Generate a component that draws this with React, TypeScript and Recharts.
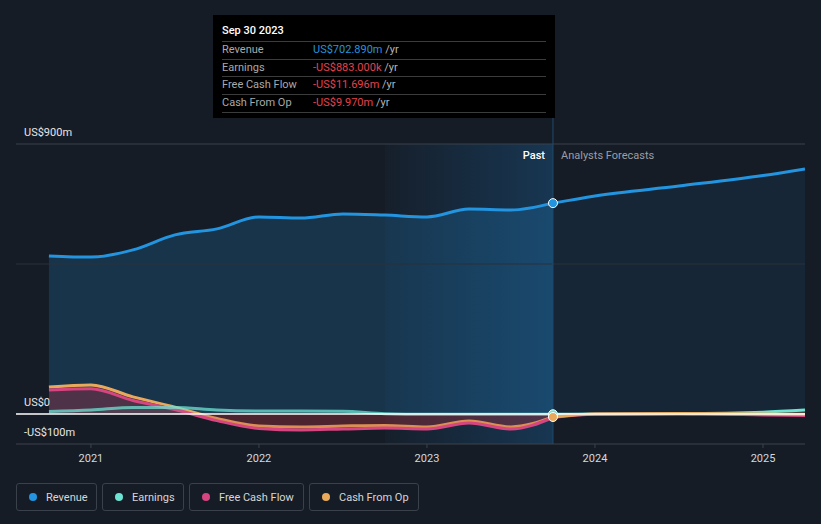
import {
  Area,
  ComposedChart,
  ReferenceArea,
  ReferenceDot,
  ReferenceLine,
  XAxis,
  YAxis,
} from 'recharts'

// quarter ends as fractional years; last past point is Sep 30 2023
const periods = [
  2020.75, 2021.0, 2021.25, 2021.5, 2021.75, 2022.0, 2022.25, 2022.5, 2022.75,
  2023.0, 2023.25, 2023.5, 2023.75,
]
const revenue = [527, 523, 547, 597, 617, 657, 653, 667, 663, 657, 683, 680, 702.89]
const earnings = [8, 13, 22, 22, 13, 10, 10, 9, 1, -1, -1, -1, -0.883]
const freeCashFlow = [80, 84, 45, 15, -22, -48, -53, -50, -47, -50, -30, -50, -11.696]
const cashFromOp = [90, 97, 57, 23, -15, -40, -43, -40, -38, -43, -23, -43, -9.97]

const forecastPeriods = [2024.0, 2024.5, 2025.0, 2025.25]
const revenueForecast = [727, 760, 795, 817]
const earningsForecast = [0, 1, 6, 13]
const freeCashFlowForecast = [-1, 0, -3, -5]
const cashFromOpForecast = [0, 2, 0, -1]

const yearTicks = [2021, 2022, 2023, 2024, 2025]
const valueTicks = [-100, 0, 900]
const valueLabels: Record<number, string> = {
  [-100]: '-US$100m',
  0: 'US$0',
  900: 'US$900m',
}

const COLORS = {
  revenue: '#2394df',
  earnings: '#6de3d3',
  fcf: '#d6457f',
  cfo: '#e9a95a',
}

const last = periods.length - 1
const pastEnd = periods[last]

const chartData = [
  ...periods.map((t, i) => ({
    t,
    rev: revenue[i],
    earn: earnings[i],
    fcf: freeCashFlow[i],
    cfo: cashFromOp[i],
    revF: i === last ? revenue[i] : null,
    earnF: i === last ? earnings[i] : null,
    fcfF: i === last ? freeCashFlow[i] : null,
    cfoF: i === last ? cashFromOp[i] : null,
  })),
  ...forecastPeriods.map((t, i) => ({
    t,
    rev: null,
    earn: null,
    fcf: null,
    cfo: null,
    revF: revenueForecast[i],
    earnF: earningsForecast[i],
    fcfF: freeCashFlowForecast[i],
    cfoF: cashFromOpForecast[i],
  })),
]

const tooltipRows = [
  { label: 'Revenue', value: 'US$702.890m', color: '#2394df' },
  { label: 'Earnings', value: '-US$883.000k', color: '#e5424d' },
  { label: 'Free Cash Flow', value: '-US$11.696m', color: '#e5424d' },
  { label: 'Cash From Op', value: '-US$9.970m', color: '#e5424d' },
]

const legendItems = [
  { name: 'Revenue', color: COLORS.revenue, width: 81 },
  { name: 'Earnings', color: COLORS.earnings, width: 82 },
  { name: 'Free Cash Flow', color: COLORS.fcf, width: 115 },
  { name: 'Cash From Op', color: COLORS.cfo, width: 110 },
]

const FONT = 'Roboto, "Noto Sans", sans-serif'

function ValueTick({ y, payload }: any) {
  return (
    <text x={24} y={y - 12} dy="0.35em" fill="#e6e6e6" fontSize={11} fontFamily={FONT}>
      {valueLabels[payload.value]}
    </text>
  )
}

export default function App() {
  return (
    <div
      style={{
        position: 'absolute',
        left: 0,
        top: 0,
        width: 821,
        height: 524,
        background: '#161c26',
        fontFamily: FONT,
        overflow: 'hidden',
      }}
    >
      <ComposedChart
        width={821}
        height={524}
        data={chartData}
        margin={{ top: 114, right: 16, bottom: 50, left: 15 }}
      >
        <defs>
          <linearGradient id="pastBand" x1="0" y1="0" x2="1" y2="0">
            <stop offset="0%" stopColor="#1a6fb0" stopOpacity={0.04} />
            <stop offset="100%" stopColor="#1a6fb0" stopOpacity={0.32} />
          </linearGradient>
        </defs>
        <XAxis
          dataKey="t"
          type="number"
          domain={[2020.554, 2025.25]}
          ticks={yearTicks}
          tickFormatter={(v) => String(v)}
          stroke="#3d434d"
          tickSize={4}
          tickMargin={6}
          tick={{ fill: '#d8d8d8', fontSize: 11, fontFamily: FONT }}
          height={30}
          allowDataOverflow
        />
        <YAxis
          type="number"
          domain={[-100, 1000]}
          ticks={valueTicks}
          width={1}
          axisLine={false}
          tickLine={false}
          tick={(props: any) => <ValueTick {...props} />}
          allowDataOverflow
        />
        <ReferenceArea x1={2022.75} x2={pastEnd} y1={-100} y2={900} fill="url(#pastBand)" fillOpacity={1} />
        <ReferenceLine y={900} stroke="#3a414b" strokeWidth={1} />
        <ReferenceLine y={500} stroke="#2a313b" strokeWidth={1} />

        <Area
          type="monotone"
          dataKey="rev"
          stroke={COLORS.revenue}
          strokeWidth={3}
          fill={COLORS.revenue}
          fillOpacity={0.2}
          baseValue={0}
          isAnimationActive={false}
          dot={false}
          activeDot={false}
        />
        <Area
          type="monotone"
          dataKey="revF"
          stroke={COLORS.revenue}
          strokeWidth={3}
          fill={COLORS.revenue}
          fillOpacity={0.09}
          baseValue={0}
          isAnimationActive={false}
          dot={false}
          activeDot={false}
        />
        <Area
          type="monotone"
          dataKey="cfo"
          stroke={COLORS.cfo}
          strokeWidth={3}
          fill="#a8303f"
          fillOpacity={0.2}
          baseValue={0}
          isAnimationActive={false}
          dot={false}
          activeDot={false}
        />
        <Area
          type="monotone"
          dataKey="fcf"
          stroke={COLORS.fcf}
          strokeWidth={3}
          fill="#a8303f"
          fillOpacity={0.22}
          baseValue={0}
          isAnimationActive={false}
          dot={false}
          activeDot={false}
        />
        <Area
          type="monotone"
          dataKey="earn"
          stroke={COLORS.earnings}
          strokeWidth={3}
          strokeOpacity={0.75}
          fill={COLORS.earnings}
          fillOpacity={0.08}
          baseValue={0}
          isAnimationActive={false}
          dot={false}
          activeDot={false}
        />
        <Area
          type="monotone"
          dataKey="earnF"
          stroke={COLORS.earnings}
          strokeWidth={3}
          fill="none"
          isAnimationActive={false}
          dot={false}
          activeDot={false}
        />
        <Area
          type="monotone"
          dataKey="fcfF"
          stroke={COLORS.fcf}
          strokeWidth={3}
          fill="none"
          isAnimationActive={false}
          dot={false}
          activeDot={false}
        />
        <Area
          type="monotone"
          dataKey="cfoF"
          stroke={COLORS.cfo}
          strokeWidth={3}
          fill="none"
          isAnimationActive={false}
          dot={false}
          activeDot={false}
        />
        <ReferenceLine y={0} stroke="#ffffff" strokeWidth={1.5} />
        <ReferenceLine x={pastEnd} stroke="#1f4a6e" strokeWidth={1} />
        <ReferenceDot x={pastEnd} y={earnings[last]} r={4.5} fill={COLORS.earnings} stroke="#ffffff" strokeWidth={1} />
        <ReferenceDot x={pastEnd} y={cashFromOp[last]} r={4.5} fill={COLORS.cfo} stroke="#ffffff" strokeWidth={1} />
        <ReferenceDot x={pastEnd} y={revenue[last]} r={4.5} fill={COLORS.revenue} stroke="#ffffff" strokeWidth={1} />
      </ComposedChart>

      {/* static tooltip for Sep 30 2023 */}
      <div
        style={{
          position: 'absolute',
          left: 213,
          top: 15,
          width: 342,
          height: 103,
          background: '#000000',
          fontSize: 11,
        }}
      >
        <div style={{ position: 'absolute', left: 9, top: 9, color: '#ffffff', fontWeight: 500 }}>
          Sep 30 2023
        </div>
        {tooltipRows.map((row, i) => (
          <div
            key={row.label}
            style={{
              position: 'absolute',
              left: 9,
              top: 26 + i * 17.5,
              width: 324,
              height: 17,
              borderTop: '1px solid #3c3c3c',
              borderBottom: i === tooltipRows.length - 1 ? '1px solid #3c3c3c' : 'none',
              lineHeight: '16px',
            }}
          >
            <span style={{ position: 'absolute', left: 0, color: '#a9a9a9' }}>{row.label}</span>
            <span style={{ position: 'absolute', left: 91, color: row.color, whiteSpace: 'nowrap' }}>
              {row.value}
              <span style={{ color: '#b5b5b5' }}> /yr</span>
            </span>
          </div>
        ))}
      </div>

      <div
        style={{
          position: 'absolute',
          right: 821 - 545,
          top: 149,
          color: '#ffffff',
          fontSize: 11,
          fontWeight: 500,
        }}
      >
        Past
      </div>
      <div style={{ position: 'absolute', left: 561, top: 149, color: '#9a9ea5', fontSize: 11 }}>
        Analysts Forecasts
      </div>

      <div style={{ position: 'absolute', left: 16, top: 483, display: 'flex', gap: 5 }}>
        {legendItems.map((item) => (
          <div
            key={item.name}
            style={{
              width: item.width,
              height: 28,
              boxSizing: 'border-box',
              border: '1px solid #3b414b',
              borderRadius: 3,
              display: 'flex',
              alignItems: 'center',
              paddingLeft: 12,
              gap: 9,
              color: '#d6d6d6',
              fontSize: 11,
            }}
          >
            <span
              style={{
                width: 8,
                height: 8,
                borderRadius: '50%',
                background: item.color,
                display: 'inline-block',
              }}
            />
            {item.name}
          </div>
        ))}
      </div>
    </div>
  )
}
